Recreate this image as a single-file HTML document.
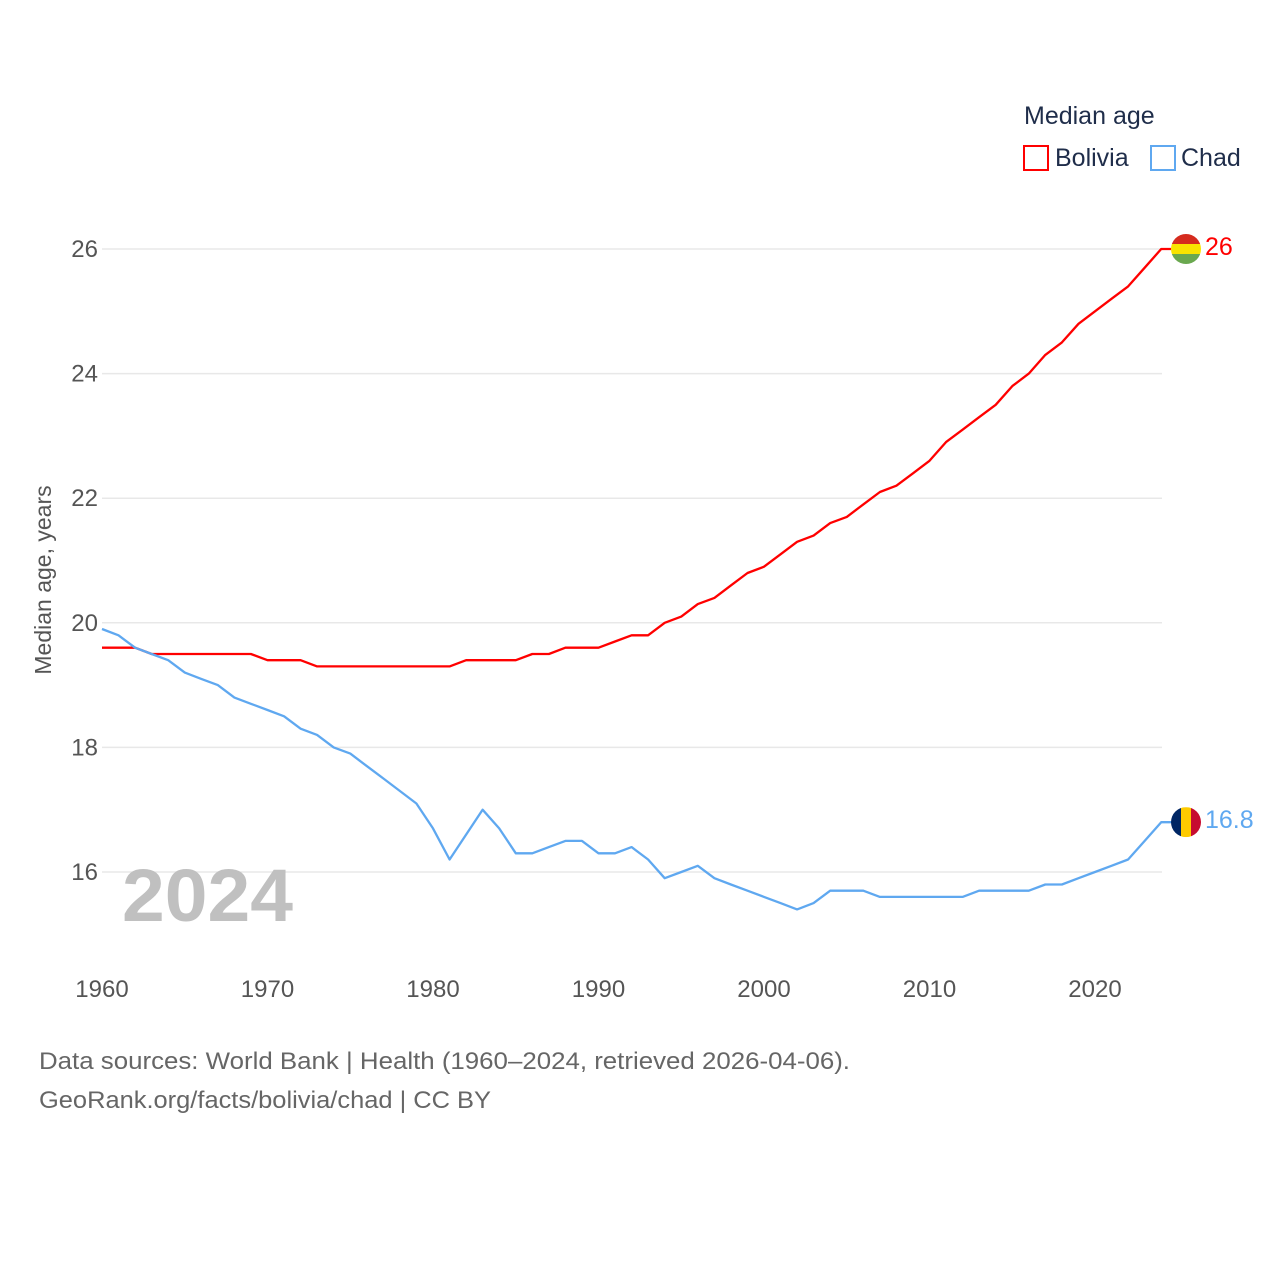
<!DOCTYPE html>
<html><head><meta charset="utf-8"><style>
body{margin:0;background:#fff;width:1280px;height:1280px;overflow:hidden;font-family:"Liberation Sans",sans-serif}
svg text{font-family:"Liberation Sans",sans-serif}
</style></head><body>
<svg id="chart" width="1280" height="1280" viewBox="0 0 1280 1280">
<g id="grid"></g>
<g id="yticks"></g>
<g id="xticks"></g>
<text x="122" y="921" font-size="74" font-weight="bold" fill="#c0c0c0" textLength="171" lengthAdjust="spacingAndGlyphs">2024</text>
<text transform="translate(51,580) rotate(-90)" text-anchor="middle" font-size="23" fill="#555">Median age, years</text>
<g id="lines"></g>
<g>
<text x="1024" y="124" font-size="25" fill="#1f2d4a">Median age</text>
<rect x="1024" y="146" width="24" height="24" fill="none" stroke="#ff0000" stroke-width="2"/>
<text x="1055" y="166" font-size="25" fill="#1f2d4a">Bolivia</text>
<rect x="1151" y="146" width="24" height="24" fill="none" stroke="#5fa8f0" stroke-width="2"/>
<text x="1181" y="166" font-size="25" fill="#1f2d4a">Chad</text>
</g>
<text x="39" y="1069" font-size="24" fill="#666" textLength="811" lengthAdjust="spacingAndGlyphs">Data sources: World Bank | Health (1960–2024, retrieved 2026-04-06).</text>
<text x="39" y="1108" font-size="24" fill="#666" textLength="452" lengthAdjust="spacingAndGlyphs">GeoRank.org/facts/bolivia/chad | CC BY</text>
</svg>
<script>
const years=[];for(let y=1960;y<=2024;y++)years.push(y);
const bolivia=[19.6,19.6,19.6,19.5,19.5,19.5,19.5,19.5,19.5,19.5,19.4,19.4,19.4,19.3,19.3,19.3,19.3,19.3,19.3,19.3,19.3,19.3,19.4,19.4,19.4,19.4,19.5,19.5,19.6,19.6,19.6,19.7,19.8,19.8,20.0,20.1,20.3,20.4,20.6,20.8,20.9,21.1,21.3,21.4,21.6,21.7,21.9,22.1,22.2,22.4,22.6,22.9,23.1,23.3,23.5,23.8,24.0,24.3,24.5,24.8,25.0,25.2,25.4,25.7,26.0];
const chad=[19.9,19.8,19.6,19.5,19.4,19.2,19.1,19.0,18.8,18.7,18.6,18.5,18.3,18.2,18.0,17.9,17.7,17.5,17.3,17.1,16.7,16.2,16.6,17.0,16.7,16.3,16.3,16.4,16.5,16.5,16.3,16.3,16.4,16.2,15.9,16.0,16.1,15.9,15.8,15.7,15.6,15.5,15.4,15.5,15.7,15.7,15.7,15.6,15.6,15.6,15.6,15.6,15.6,15.7,15.7,15.7,15.7,15.8,15.8,15.9,16.0,16.1,16.2,16.5,16.8];
const yTicks=[16,18,20,22,24,26];
const xTicks=[1960,1970,1980,1990,2000,2010,2020];
const NS="http://www.w3.org/2000/svg";
const X=y=>102+(y-1960)*(1095-102)/60;
const Y=v=>249+(26-v)*62.3;
function mk(t,a,p){const e=document.createElementNS(NS,t);for(const k in a)e.setAttribute(k,a[k]);p.appendChild(e);return e;}
const grid=document.getElementById('grid'),yt=document.getElementById('yticks'),xt=document.getElementById('xticks'),lines=document.getElementById('lines');
yTicks.forEach(v=>{
 const l=mk('line',{x1:102,x2:1162,y1:Y(v),y2:Y(v),stroke:'#e8e8e8','stroke-width':1.5},grid);
 
 
 const t=mk('text',{x:98,y:Y(v)+8,'text-anchor':'end','font-size':24,fill:'#555'},yt);
 t.textContent=v;
 
 
});
xTicks.forEach(v=>{
 const t=mk('text',{x:X(v),y:997,'text-anchor':'middle','font-size':24,fill:'#555'},xt);
 t.textContent=v;
 
 
});
function series(vals,color,name,flag){
 let d=vals.map((v,i)=>(i?'L':'M')+X(years[i]).toFixed(1)+','+Y(v).toFixed(1)).join('');
 const last=vals[vals.length-1];
 d+='L'+(X(2024)+10)+','+Y(last).toFixed(1);
 const p=mk('path',{d:d,fill:'none',stroke:color,'stroke-width':2.3,'stroke-linejoin':'round'},lines);
 
 
 const cx=1186,cy=Y(last);
 const g=mk('g',{},lines);
 
 
 const cid='c'+name;
 const cp=mk('clipPath',{id:cid},g);mk('circle',{cx:cx,cy:cy,r:15},cp);
 flag(g,cx,cy,cid);
 const t=mk('text',{x:1205,y:cy+6,'font-size':25,fill:color},lines);
 t.textContent=last;
 
 
}
series(bolivia,'#ff0000','bolivia',(g,cx,cy,c)=>{
 [['#d52b1e',-15],['#f9e300',-5],['#6aa84f',5]].forEach(([f,o])=>mk('rect',{x:cx-15,y:cy+o,width:30,height:10,fill:f,'clip-path':'url(#'+c+')'},g));
});
series(chad,'#5fa8f0','chad',(g,cx,cy,c)=>{
 [['#002664',-15],['#fecb00',-5],['#c60c30',5]].forEach(([f,o])=>mk('rect',{x:cx+o,y:cy-15,width:10,height:30,fill:f,'clip-path':'url(#'+c+')'},g));
});
</script>
</body></html>
